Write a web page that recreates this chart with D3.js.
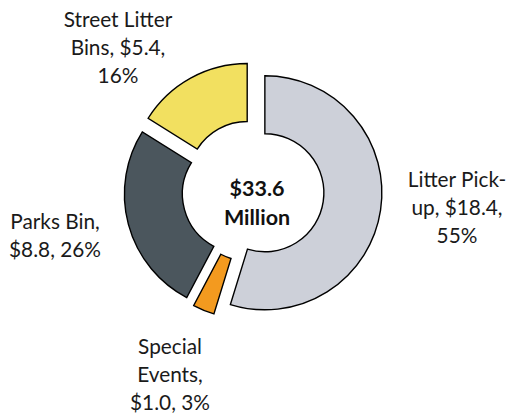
<!DOCTYPE html>
<html>
<head>
<meta charset="utf-8">
<script src="https://cdn.jsdelivr.net/npm/d3@7"></script>
<style>
  html, body { margin: 0; padding: 0; background: #fff; }
  svg { display: block; }
  text { font-family: Lato, "Open Sans", sans-serif; }
</style>
</head>
<body>
<svg id="chart" width="508" height="414"></svg>
<script>
// ---- data ----
const categories = ["Litter Pick-up", "Special Events", "Parks Bin", "Street Litter Bins"];
const values = [18.4, 1.0, 8.8, 5.4];
const percents = ["55%", "3%", "26%", "16%"];
const labelLines = [
  ["Litter Pick-", "up, $18.4,", "55%"],
  ["Special", "Events,", "$1.0, 3%"],
  ["Parks Bin,", "$8.8, 26%"],
  ["Street Litter", "Bins, $5.4,", "16%"]
];
const colors = ["#CDD0D9", "#F39A1F", "#4B565D", "#F2E060"];
const centerLines = ["$33.6", "Million"];

// ---- layout ----
const W = 508, H = 414;
const cx = 253, cy = 191;
const outerR = 117, innerR = 59, explode = 12;
// label anchors (center of text block, relative to the chart centre)
const labelAnchor = [[204, 17], [-83, 184], [-198, 45], [-135, -143]];
const lineH = 28;

const svg = d3.select("#chart");
const g = svg.append("g").attr("transform", `translate(${cx},${cy})`);

const data = categories.map((c, i) => ({ name: c, value: values[i], pct: percents[i], lines: labelLines[i], color: colors[i] }));

const pie = d3.pie().sort(null).value(d => d.value).startAngle(0).endAngle(2 * Math.PI);
const arc = d3.arc().innerRadius(innerR).outerRadius(outerR);
const arcs = pie(data);

g.selectAll("path.slice")
  .data(arcs)
  .join("path")
  .attr("class", "slice")
  .attr("transform", d => {
    const a = (d.startAngle + d.endAngle) / 2;
    return `translate(${explode * Math.sin(a)},${-explode * Math.cos(a)})`;
  })
  .attr("d", arc)
  .attr("fill", d => d.data.color)
  .attr("stroke", "#000")
  .attr("stroke-width", 1.4)
  .attr("stroke-linejoin", "miter");

// labels
const lab = g.selectAll("g.label")
  .data(arcs)
  .join("g")
  .attr("class", "label")
  .attr("transform", (d, i) => `translate(${labelAnchor[i][0]},${labelAnchor[i][1]})`);

lab.each(function(d) {
  const n = d.data.lines.length;
  const t = d3.select(this).append("text")
    .attr("text-anchor", "middle")
    .attr("font-size", 20.8)
    .attr("fill", "#1a1a1a");
  d.data.lines.forEach((ln, j) => {
    t.append("tspan")
      .attr("x", 0)
      .attr("y", (j - (n - 1) / 2) * lineH)
      .attr("dy", "0.35em")
      .text(ln);
  });
});

// centre text
const ct = g.append("text")
  .attr("text-anchor", "middle")
  .attr("font-size", 21.5)
  .attr("font-weight", "bold")
  .attr("fill", "#111");
centerLines.forEach((ln, j) => {
  ct.append("tspan")
    .attr("x", 4)
    .attr("y", -3 + j * 29)
    .attr("dy", "0.35em")
    .text(ln);
});
</script>
</body>
</html>
